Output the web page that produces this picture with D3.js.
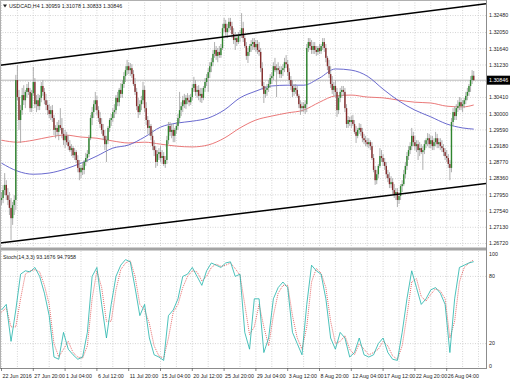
<!DOCTYPE html>
<html>
<head>
<meta charset="utf-8">
<script src="https://d3js.org/d3.v7.min.js"></script>
<style>
body { margin: 0; background: #fff; }
svg { display: block; font-family: "Liberation Sans", Arial, sans-serif; }
</style>
</head>
<body>
<div id="chart"></div>
<script>
// USDCAD H4, 22 Jun - 31 Aug 2016, bars (bar 0 = 22 Jun 12:00)
var firstOpen = 1.2782;
var closes = [
  1.2787, 1.2807, 1.2820, 1.2794, 1.2782, 1.2762, 1.2736, 1.2769, 1.2782, 1.3085,
  1.3042, 1.2984, 1.3009, 1.3047, 1.3034, 1.3055, 1.3065, 1.3055, 1.3014, 1.3052,
  1.3080, 1.3024, 1.3034, 1.3019, 1.3040, 1.3070, 1.3055, 1.3034, 1.3022, 1.3009,
  1.2999, 1.3009, 1.2989, 1.2959, 1.2964, 1.2954, 1.2971, 1.2964, 1.2949, 1.2933,
  1.2944, 1.2928, 1.2918, 1.2908, 1.2913, 1.2895, 1.2903, 1.2883, 1.2863, 1.2852,
  1.2863, 1.2858, 1.2878, 1.2888, 1.2898, 1.2938, 1.2989, 1.3004, 1.3024, 1.3034,
  1.3009, 1.2989, 1.2974, 1.2959, 1.2944, 1.2923, 1.2933, 1.2964, 1.2984, 1.2989,
  1.3004, 1.3009, 1.3040, 1.3029, 1.3060, 1.3050, 1.3075, 1.3095, 1.3110, 1.3120,
  1.3110, 1.3115, 1.3100, 1.3075, 1.3055, 1.3019, 1.3004, 1.3024, 1.3034, 1.3060,
  1.3014, 1.2984, 1.2964, 1.2969, 1.2944, 1.2918, 1.2908, 1.2878, 1.2898, 1.2903,
  1.2888, 1.2893, 1.2873, 1.2883, 1.2933, 1.2969, 1.2954, 1.2959, 1.2944, 1.2959,
  1.2969, 1.2989, 1.3009, 1.3019, 1.3034, 1.3024, 1.3040, 1.3034, 1.3029, 1.3042,
  1.3065, 1.3075, 1.3055, 1.3060, 1.3045, 1.3050, 1.3040, 1.3065, 1.3080, 1.3090,
  1.3105, 1.3120, 1.3130, 1.3151, 1.3161, 1.3146, 1.3156, 1.3148, 1.3166, 1.3216,
  1.3227, 1.3206, 1.3216, 1.3232, 1.3221, 1.3201, 1.3186, 1.3191, 1.3181, 1.3196,
  1.3201, 1.3216, 1.3191, 1.3171, 1.3146, 1.3156, 1.3171, 1.3176, 1.3181, 1.3168,
  1.3176, 1.3161, 1.3156, 1.3115, 1.3070, 1.3050, 1.3060, 1.3065, 1.3075, 1.3090,
  1.3095, 1.3120, 1.3110, 1.3115, 1.3110, 1.3100, 1.3110, 1.3115, 1.3130, 1.3125,
  1.3105, 1.3085, 1.3070, 1.3055, 1.3065, 1.3060, 1.3045, 1.3024, 1.3014, 1.3019,
  1.3014, 1.3024, 1.3166, 1.3181, 1.3171, 1.3161, 1.3171, 1.3161, 1.3156, 1.3166,
  1.3158, 1.3171, 1.3181, 1.3166, 1.3141, 1.3120, 1.3100, 1.3075, 1.3060, 1.3070,
  1.3055, 1.3009, 1.3040, 1.3055, 1.3060, 1.3055, 1.3014, 1.2974, 1.2984, 1.2979,
  1.2984, 1.2974, 1.2954, 1.2944, 1.2959, 1.2964, 1.2954, 1.2938, 1.2933, 1.2928,
  1.2923, 1.2928, 1.2918, 1.2888, 1.2858, 1.2832, 1.2847, 1.2868, 1.2893, 1.2888,
  1.2878, 1.2868, 1.2847, 1.2837, 1.2822, 1.2827, 1.2807, 1.2797, 1.2802, 1.2782,
  1.2792, 1.2817, 1.2822, 1.2847, 1.2868, 1.2893, 1.2908, 1.2918, 1.2944, 1.2928,
  1.2918, 1.2923, 1.2908, 1.2913, 1.2903, 1.2908, 1.2923, 1.2933, 1.2938, 1.2923,
  1.2933, 1.2918, 1.2928, 1.2938, 1.2923, 1.2928, 1.2918, 1.2913, 1.2903, 1.2893,
  1.2888, 1.2873, 1.2863, 1.2979, 1.3004, 1.2994, 1.3014, 1.3019, 1.3029, 1.3019,
  1.3024, 1.3034, 1.3045, 1.3055, 1.3070, 1.3085, 1.30959, 1.30846
];
var highs = [
  1.2802, 1.2820, 1.2850, 1.2832, 1.2812, 1.2802, 1.2787, 1.2777, 1.2794, 1.3098,
  1.3123, 1.3060, 1.3022, 1.3065, 1.3072, 1.3060, 1.3075, 1.3080, 1.3065, 1.3060,
  1.3118, 1.3090, 1.3047, 1.3050, 1.3047, 1.3080, 1.3085, 1.3065, 1.3050, 1.3034,
  1.3024, 1.3019, 1.3022, 1.2997, 1.2971, 1.2979, 1.2984, 1.3014, 1.2989, 1.2964,
  1.2959, 1.2954, 1.2946, 1.2933, 1.2923, 1.2918, 1.2913, 1.2908, 1.2895, 1.2883,
  1.2870, 1.2878, 1.2883, 1.2901, 1.2908, 1.2946, 1.2997, 1.3017, 1.3034, 1.3055,
  1.3045, 1.3019, 1.3004, 1.2989, 1.2974, 1.2959, 1.2944, 1.2969, 1.2989, 1.2999,
  1.3014, 1.3024, 1.3047, 1.3055, 1.3065, 1.3077, 1.3085, 1.3105, 1.3120, 1.3136,
  1.3130, 1.3128, 1.3125, 1.3110, 1.3090, 1.3065, 1.3040, 1.3034, 1.3045, 1.3080,
  1.3070, 1.3029, 1.2994, 1.2984, 1.2974, 1.2959, 1.2933, 1.2918, 1.2908, 1.2913,
  1.2918, 1.2908, 1.2903, 1.2893, 1.2944, 1.2979, 1.2979, 1.2974, 1.2974, 1.2964,
  1.2979, 1.2999, 1.3055, 1.3029, 1.3045, 1.3050, 1.3047, 1.3052, 1.3047, 1.3050,
  1.3075, 1.3093, 1.3085, 1.3070, 1.3072, 1.3065, 1.3065, 1.3070, 1.3090, 1.3100,
  1.3115, 1.3130, 1.3141, 1.3161, 1.3181, 1.3171, 1.3166, 1.3171, 1.3176, 1.3227,
  1.3242, 1.3237, 1.3227, 1.3242, 1.3242, 1.3232, 1.3216, 1.3206, 1.3201, 1.3206,
  1.3211, 1.3254, 1.3232, 1.3201, 1.3181, 1.3166, 1.3176, 1.3186, 1.3191, 1.3191,
  1.3186, 1.3186, 1.3181, 1.3166, 1.3130, 1.3080, 1.3070, 1.3075, 1.3085, 1.3100,
  1.3105, 1.3130, 1.3141, 1.3125, 1.3130, 1.3120, 1.3120, 1.3125, 1.3141, 1.3148,
  1.3136, 1.3115, 1.3095, 1.3085, 1.3075, 1.3075, 1.3070, 1.3050, 1.3034, 1.3029,
  1.3029, 1.3034, 1.3176, 1.3191, 1.3191, 1.3186, 1.3181, 1.3181, 1.3171, 1.3171,
  1.3176, 1.3176, 1.3191, 1.3191, 1.3176, 1.3146, 1.3136, 1.3120, 1.3095, 1.3080,
  1.3085, 1.3065, 1.3045, 1.3065, 1.3070, 1.3070, 1.3065, 1.3024, 1.2994, 1.2992,
  1.2994, 1.2997, 1.2984, 1.2969, 1.2964, 1.2976, 1.2974, 1.2964, 1.2949, 1.2944,
  1.2938, 1.2938, 1.2933, 1.2928, 1.2898, 1.2868, 1.2858, 1.2873, 1.2913, 1.2908,
  1.2898, 1.2888, 1.2878, 1.2858, 1.2852, 1.2842, 1.2837, 1.2822, 1.2812, 1.2812,
  1.2802, 1.2822, 1.2832, 1.2858, 1.2878, 1.2903, 1.2918, 1.2928, 1.2964, 1.2954,
  1.2944, 1.2933, 1.2933, 1.2928, 1.2923, 1.2918, 1.2933, 1.2938, 1.2951, 1.2949,
  1.2944, 1.2944, 1.2938, 1.2954, 1.2949, 1.2938, 1.2938, 1.2933, 1.2923, 1.2913,
  1.2908, 1.2898, 1.2883, 1.2989, 1.3014, 1.3019, 1.3024, 1.3034, 1.3042, 1.3040,
  1.3034, 1.3040, 1.3055, 1.3065, 1.3075, 1.3095, 1.3110, 1.31078
];
var lows = [
  1.2769, 1.2774, 1.2794, 1.2782, 1.2769, 1.2744, 1.2681, 1.2719, 1.2744, 1.2757,
  1.3034, 1.2959, 1.2926, 1.2997, 1.3022, 1.3014, 1.3040, 1.3047, 1.3004, 1.3004,
  1.3045, 1.3014, 1.3004, 1.3009, 1.3009, 1.3029, 1.3045, 1.3024, 1.3009, 1.2997,
  1.2989, 1.2984, 1.2979, 1.2946, 1.2938, 1.2944, 1.2933, 1.2959, 1.2938, 1.2921,
  1.2913, 1.2921, 1.2908, 1.2903, 1.2893, 1.2888, 1.2883, 1.2875, 1.2852, 1.2832,
  1.2837, 1.2845, 1.2847, 1.2868, 1.2878, 1.2890, 1.2933, 1.2971, 1.2989, 1.3009,
  1.2997, 1.2979, 1.2964, 1.2949, 1.2933, 1.2908, 1.2878, 1.2923, 1.2954, 1.2969,
  1.2979, 1.2989, 1.2999, 1.3019, 1.3019, 1.3040, 1.3040, 1.3065, 1.3080, 1.3098,
  1.3100, 1.3095, 1.3090, 1.3070, 1.3047, 1.3009, 1.2989, 1.2997, 1.3009, 1.3024,
  1.3004, 1.2971, 1.2949, 1.2944, 1.2933, 1.2908, 1.2893, 1.2863, 1.2868, 1.2883,
  1.2878, 1.2873, 1.2868, 1.2863, 1.2873, 1.2923, 1.2944, 1.2938, 1.2928, 1.2928,
  1.2949, 1.2959, 1.2979, 1.2994, 1.3004, 1.3014, 1.3012, 1.3024, 1.3019, 1.3022,
  1.3034, 1.3055, 1.3045, 1.3040, 1.3034, 1.3029, 1.3027, 1.3034, 1.3055, 1.3070,
  1.3055, 1.3090, 1.3105, 1.3120, 1.3141, 1.3136, 1.3130, 1.3141, 1.3141, 1.3161,
  1.3206, 1.3196, 1.3191, 1.3206, 1.3211, 1.3191, 1.3176, 1.3161, 1.3171, 1.3176,
  1.3181, 1.3191, 1.3181, 1.3166, 1.3136, 1.3128, 1.3146, 1.3156, 1.3161, 1.3161,
  1.3156, 1.3151, 1.3146, 1.3105, 1.3060, 1.3027, 1.3040, 1.3045, 1.3055, 1.3065,
  1.3075, 1.3085, 1.3105, 1.3042, 1.3100, 1.3090, 1.3090, 1.3095, 1.3105, 1.3115,
  1.3095, 1.3075, 1.3060, 1.3042, 1.3045, 1.3050, 1.3040, 1.3014, 1.2997, 1.3004,
  1.3004, 1.2999, 1.3004, 1.3156, 1.3161, 1.3151, 1.3151, 1.3151, 1.3146, 1.3148,
  1.3151, 1.3151, 1.3161, 1.3156, 1.3130, 1.3110, 1.3090, 1.3065, 1.3050, 1.3045,
  1.3040, 1.2992, 1.2999, 1.3029, 1.3040, 1.3045, 1.3004, 1.2964, 1.2964, 1.2969,
  1.2964, 1.2969, 1.2949, 1.2926, 1.2938, 1.2949, 1.2944, 1.2928, 1.2923, 1.2918,
  1.2916, 1.2913, 1.2908, 1.2883, 1.2852, 1.2820, 1.2822, 1.2837, 1.2863, 1.2878,
  1.2868, 1.2858, 1.2837, 1.2827, 1.2812, 1.2812, 1.2797, 1.2787, 1.2782, 1.2764,
  1.2772, 1.2782, 1.2802, 1.2817, 1.2837, 1.2858, 1.2883, 1.2898, 1.2908, 1.2918,
  1.2908, 1.2903, 1.2883, 1.2893, 1.2898, 1.2858, 1.2898, 1.2913, 1.2918, 1.2913,
  1.2913, 1.2908, 1.2908, 1.2918, 1.2913, 1.2913, 1.2908, 1.2903, 1.2893, 1.2883,
  1.2878, 1.2863, 1.2832, 1.2852, 1.2969, 1.2984, 1.2984, 1.3004, 1.3009, 1.3009,
  1.3004, 1.3014, 1.3024, 1.3034, 1.3045, 1.3055, 1.3075, 1.30833
];
// H4 bars open where the previous bar closed
var opens = [firstOpen].concat(closes.slice(0, -1));

// moving averages read every 10 bars
var maBars = [0, 10, 20, 30, 40, 50, 60, 70, 80, 90, 100, 110, 120, 130, 140, 150,
  160, 170, 180, 190, 200, 210, 220, 230, 240, 250, 260, 270, 280, 290, 297];
var maBlue = [1.2875, 1.2855, 1.2847, 1.2850, 1.2860, 1.2875, 1.2893, 1.2913, 1.2921, 1.2941,
  1.2966, 1.2976, 1.2981, 1.2989, 1.3009, 1.3040, 1.3057, 1.3070, 1.3072, 1.3072,
  1.3090, 1.3113, 1.3110, 1.3095, 1.3062, 1.3032, 1.3009, 1.2992, 1.2974, 1.2964, 1.2961];
var maRed = [1.2933, 1.2928, 1.2933, 1.2941, 1.2946, 1.2941, 1.2938, 1.2931, 1.2926, 1.2928,
  1.2923, 1.2918, 1.2916, 1.2921, 1.2938, 1.2964, 1.2984, 1.2994, 1.3002, 1.3009,
  1.3029, 1.3045, 1.3047, 1.3042, 1.3040, 1.3034, 1.3029, 1.3027, 1.3019, 1.3017, 1.3022];

// channel lines: [bar, price] at both ends
var upperLine = [[0, 1.3123], [297, 1.3274]];
var lowerLine = [[0, 1.2674], [297, 1.2820]];

// stochastic (14,3,3) read every 3 bars
var stochK = [50, 55, 22, 50, 82, 85, 84, 88, 80, 65, 45, 8, 6, 30, 15, 10, 6, 8, 30, 80,
  88, 55, 25, 55, 80, 90, 95, 93, 70, 45, 55, 25, 10, 8, 5, 45, 50, 60, 80, 82,
  88, 80, 72, 85, 92, 90, 88, 92, 93, 80, 82, 30, 15, 60, 60, 12, 25, 60, 70, 75,
  70, 30, 20, 10, 55, 90, 85, 82, 60, 25, 15, 30, 25, 8, 12, 25, 10, 8, 10, 20,
  25, 12, 6, 5, 30, 60, 85, 70, 55, 60, 68, 70, 65, 55, 12, 60, 88, 90, 92, 93.1676];
var stochD = [48, 52, 35, 35, 60, 82, 85, 86, 84, 72, 55, 20, 8, 15, 22, 12, 8, 7, 18, 60,
  85, 70, 40, 40, 68, 86, 92, 94, 80, 55, 50, 38, 18, 9, 7, 25, 48, 55, 70, 80,
  85, 84, 76, 80, 88, 91, 89, 90, 92, 87, 81, 55, 28, 35, 55, 35, 18, 45, 65, 72,
  72, 45, 25, 15, 35, 75, 87, 83, 70, 40, 20, 22, 27, 15, 10, 20, 15, 10, 12, 15,
  22, 18, 9, 6, 18, 45, 75, 78, 62, 58, 64, 69, 67, 60, 25, 40, 75, 88, 92, 94.7958];

var priceTicks = ["1.32480", "1.32050", "1.31640", "1.31230", "1.30820", "1.30410", "1.30000",
  "1.29590", "1.29180", "1.28770", "1.28360", "1.27950", "1.27540", "1.27130", "1.26720"];
var stochTicks = [100, 80, 20, 0];
var timeTickBars = [0, 20, 40, 60, 80, 100, 120, 140, 160, 180, 200, 220, 240, 260, 280];
var timeTicks = ["22 Jun 2016", "27 Jun 20:00", "1 Jul 04:00", "6 Jul 12:00", "11 Jul 20:00",
  "15 Jul 04:00", "20 Jul 12:00", "25 Jul 20:00", "29 Jul 04:00", "3 Aug 12:00",
  "8 Aug 20:00", "12 Aug 04:00", "17 Aug 12:00", "22 Aug 20:00", "26 Aug 04:00"];

var W = 510, H = 382;
var plotR = 486, mainB = 246, stT = 251, stB = 368;
var fs = 5.3;

var svg = d3.select('#chart').append('svg').attr('width', W).attr('height', H);

var x = d3.scaleLinear().domain([0, 300]).range([1.5, 478.5]);
var y = d3.scaleLinear().domain([1.26657, 1.32872]).range([mainB, 0]);
var ys = d3.scaleLinear().domain([0, 100]).range([366, 254]);

var defs = svg.append('defs');
defs.append('clipPath').attr('id', 'clipMain').append('rect')
  .attr('x', 0).attr('y', 0).attr('width', plotR).attr('height', mainB);
defs.append('clipPath').attr('id', 'clipSt').append('rect')
  .attr('x', 0).attr('y', stT).attr('width', plotR).attr('height', stB - stT);

// grid
var gridBars = d3.range(0, 301, 10);
var grid = svg.append('g').attr('stroke', '#c4c4c4').attr('stroke-width', 0.7)
  .attr('stroke-dasharray', '1,1.5');
grid.selectAll('.vg').data(gridBars).join('line')
  .attr('x1', function(d) { return x(d); }).attr('x2', function(d) { return x(d); })
  .attr('y1', 0).attr('y2', mainB);
grid.selectAll('.vs').data(gridBars).join('line')
  .attr('x1', function(d) { return x(d); }).attr('x2', function(d) { return x(d); })
  .attr('y1', stT).attr('y2', stB);
grid.selectAll('.hg').data(priceTicks).join('line')
  .attr('x1', 0).attr('x2', plotR)
  .attr('y1', function(d) { return y(+d); }).attr('y2', function(d) { return y(+d); });
grid.selectAll('.hs').data([80, 20]).join('line')
  .attr('x1', 0).attr('x2', plotR)
  .attr('y1', function(d) { return ys(d); }).attr('y2', function(d) { return ys(d); });

var main = svg.append('g').attr('clip-path', 'url(#clipMain)');

// bid line
main.append('line').attr('x1', 0).attr('x2', plotR)
  .attr('y1', y(closes[closes.length - 1])).attr('y2', y(closes[closes.length - 1]))
  .attr('stroke', '#a8a8a8').attr('stroke-width', 0.8);

// moving averages
var maLine = function(vals) {
  return d3.line().curve(d3.curveMonotoneX)
    .x(function(d, k) { return x(maBars[k]); })
    .y(function(d) { return y(d); })(vals);
};
main.append('path').attr('d', maLine(maRed)).attr('fill', 'none')
  .attr('stroke', '#e86a6a').attr('stroke-width', 0.9);
main.append('path').attr('d', maLine(maBlue)).attr('fill', 'none')
  .attr('stroke', '#5858c8').attr('stroke-width', 0.9);

// candles
var bars = closes.map(function(c, i) {
  return { i: i, o: opens[i], h: highs[i], l: lows[i], c: c };
});
main.selectAll('.wick').data(bars).join('line')
  .attr('x1', function(d) { return x(d.i); }).attr('x2', function(d) { return x(d.i); })
  .attr('y1', function(d) { return y(d.h); }).attr('y2', function(d) { return y(d.l); })
  .attr('stroke', '#9c9c9c').attr('stroke-width', 0.8);
main.selectAll('.body').data(bars).join('rect')
  .attr('x', function(d) { return x(d.i) - 0.7; })
  .attr('width', 1.4)
  .attr('y', function(d) { return y(Math.max(d.o, d.c)); })
  .attr('height', function(d) { return Math.max(0.7, Math.abs(y(d.o) - y(d.c))); })
  .attr('fill', function(d) { return d.c >= d.o ? '#2f852f' : '#832c2c'; });

// channel lines, extended to the panel edges
var extend = function(pts) {
  var slope = (pts[1][1] - pts[0][1]) / (pts[1][0] - pts[0][0]);
  var b0 = x.invert(0), b1 = x.invert(plotR);
  return [[b0, pts[0][1] + slope * (b0 - pts[0][0])], [b1, pts[0][1] + slope * (b1 - pts[0][0])]];
};
[upperLine, lowerLine].forEach(function(pts) {
  var e = extend(pts);
  main.append('line')
    .attr('x1', x(e[0][0])).attr('y1', y(e[0][1]))
    .attr('x2', x(e[1][0])).attr('y2', y(e[1][1]))
    .attr('stroke', '#000').attr('stroke-width', 1.5);
});

// stochastic
var st = svg.append('g').attr('clip-path', 'url(#clipSt)');
var stLine = d3.line()
  .x(function(d, k) { return x(k * 3); })
  .y(function(d) { return ys(d); });
st.append('path').attr('d', stLine(stochD)).attr('fill', 'none')
  .attr('stroke', '#e04848').attr('stroke-width', 0.8).attr('stroke-dasharray', '1,1');
st.append('path').attr('d', stLine(stochK)).attr('fill', 'none')
  .attr('stroke', '#20b2aa').attr('stroke-width', 0.8);

// frames
svg.append('rect').attr('x', 0).attr('y', mainB + 1.5).attr('width', plotR).attr('height', 3)
  .attr('fill', '#a4a4a4');
svg.append('line').attr('x1', plotR + 0.5).attr('x2', plotR + 0.5).attr('y1', 0).attr('y2', stB)
  .attr('stroke', '#8c8c8c').attr('stroke-width', 1);
svg.append('line').attr('x1', 0).attr('x2', plotR + 1).attr('y1', stB + 0.5).attr('y2', stB + 0.5)
  .attr('stroke', '#8c8c8c').attr('stroke-width', 1);
svg.append('line').attr('x1', 0.5).attr('x2', 0.5).attr('y1', 0).attr('y2', stB)
  .attr('stroke', '#b0b0b0').attr('stroke-width', 1);
svg.append('line').attr('x1', 0).attr('x2', plotR).attr('y1', 0.5).attr('y2', 0.5)
  .attr('stroke', '#b0b0b0').attr('stroke-width', 1);

// right axis labels
var axisTxt = svg.append('g').attr('font-size', fs).attr('fill', '#222');
axisTxt.selectAll('.pt').data(priceTicks).join('text')
  .attr('x', plotR + 3).attr('y', function(d) { return y(+d); })
  .attr('dy', '0.35em').text(function(d) { return d; });
axisTxt.selectAll('.st').data(stochTicks).join('text')
  .attr('x', plotR + 3).attr('y', function(d) { return ys(d); })
  .attr('dy', '0.35em').text(function(d) { return d; });

// last price box
var last = closes[closes.length - 1];
svg.append('rect').attr('x', plotR + 1).attr('y', y(last) - 4.5).attr('width', W - plotR - 1).attr('height', 9)
  .attr('fill', '#000');
svg.append('text').attr('x', plotR + 3).attr('y', y(last)).attr('dy', '0.35em')
  .attr('font-size', fs).attr('fill', '#fff').text(last.toFixed(5));

// time axis
var tAx = svg.append('g').attr('font-size', fs).attr('fill', '#222');
tAx.selectAll('line').data(timeTickBars).join('line')
  .attr('x1', function(d) { return x(d); }).attr('x2', function(d) { return x(d); })
  .attr('y1', stB).attr('y2', stB + 3).attr('stroke', '#555').attr('stroke-width', 0.7);
tAx.selectAll('text').data(timeTicks).join('text')
  .attr('x', function(d, k) { return x(timeTickBars[k]) + 1; })
  .attr('y', 378).text(function(d) { return d; });

// titles
svg.append('path').attr('d', 'M3,4.5 L7,4.5 L5,7.5 Z').attr('fill', '#222');
svg.append('text').attr('x', 9).attr('y', 8).attr('font-size', fs).attr('fill', '#222')
  .text('USDCAD,H4  1.30959 1.31078 1.30833 1.30846');
svg.append('text').attr('x', 3).attr('y', 259).attr('font-size', fs).attr('fill', '#222')
  .text('Stoch(14,3,3) 93.1676 94.7958');
</script>
</body>
</html>
